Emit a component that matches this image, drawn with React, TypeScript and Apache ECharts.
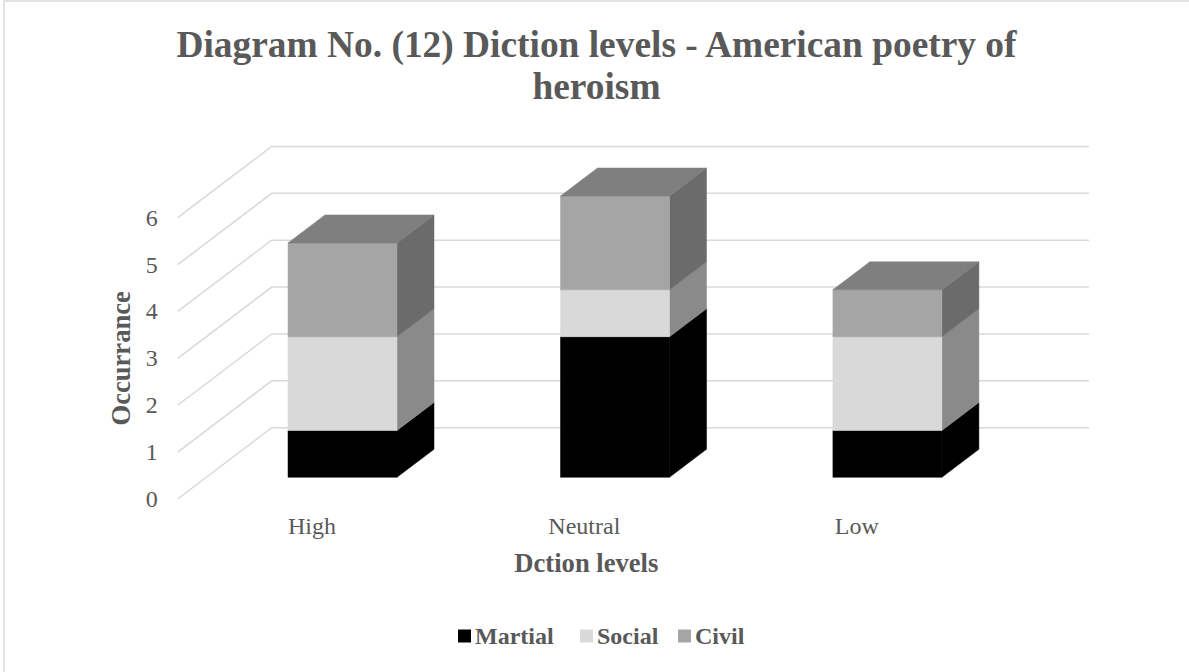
import React, { useEffect, useRef } from "react";
import * as echarts from "echarts";

const categories = ["High", "Neutral", "Low"];
const martial = [1, 3, 1];
const social = [2, 1, 2];
const civil = [2, 2, 1];
const yTicks = [0, 1, 2, 3, 4, 5, 6];

const SERIF = "'Liberation Serif', 'Times New Roman', serif";
const INK = "#595959";
const RULE = "#D9D9D9";

// Oblique projection of the chart floor and of each column
const FLOOR_DX = 94;
const FLOOR_DY = -71.3;
const BAR_SHIFT_X = 28.6;
const BAR_SHIFT_Y = -21.7;
const BAR_DX = 37;
const BAR_DY = -28;

const round = (n: number) => Math.round(n * 10) / 10;

function stackedRows(layers: number[][], layerIndex: number) {
  return categories.map((_, i) => {
    let start = 0;
    for (let l = 0; l < layerIndex; l++) start += layers[l][i];
    return [i, start, start + layers[layerIndex][i]];
  });
}

function columnSeries(
  name: string,
  rows: number[][],
  front: string,
  side: string,
  top: string | null
) {
  return {
    name,
    type: "custom",
    data: rows,
    encode: { x: 0, y: [1, 2] },
    itemStyle: { color: front },
    renderItem: (_params: any, api: any) => {
      const cat = api.value(0);
      const low = api.coord([cat, api.value(1)]);
      const high = api.coord([cat, api.value(2)]);
      const w = api.size([1, 0])[0] * 0.4;
      const x0 = round(low[0] - w / 2 + BAR_SHIFT_X);
      const x1 = round(x0 + w);
      const yLow = round(low[1] + BAR_SHIFT_Y);
      const yHigh = round(high[1] + BAR_SHIFT_Y);
      const face = (points: number[][], fill: string) => ({
        type: "polygon",
        shape: { points },
        style: { fill, stroke: fill, lineWidth: 0.5 },
      });
      const children = [
        face(
          [
            [x1, yLow],
            [x1 + BAR_DX, yLow + BAR_DY],
            [x1 + BAR_DX, yHigh + BAR_DY],
            [x1, yHigh],
          ],
          side
        ),
        face(
          [
            [x0, yLow],
            [x1, yLow],
            [x1, yHigh],
            [x0, yHigh],
          ],
          front
        ),
      ];
      if (top) {
        children.push(
          face(
            [
              [x0, yHigh],
              [x1, yHigh],
              [x1 + BAR_DX, yHigh + BAR_DY],
              [x0 + BAR_DX, yHigh + BAR_DY],
            ],
            top
          )
        );
      }
      return { type: "group", children };
    },
  };
}

// Legend entries sit at their own offsets, so each gets its own legend block
function legendEntry(name: string, left: number) {
  return {
    data: [name],
    left,
    top: 624,
    icon: "rect",
    itemWidth: 13,
    itemHeight: 13,
    itemGap: 0,
    padding: 0,
    selectedMode: false,
    textStyle: {
      fontFamily: SERIF,
      fontSize: 24,
      fontWeight: "bold",
      color: INK,
      padding: [0, 0, 0, -1],
    },
  };
}

export default function App() {
  const ref = useRef<HTMLDivElement>(null);

  useEffect(() => {
    const chart = echarts.init(ref.current!, undefined, { renderer: "svg" });
    const layers = [martial, social, civil];
    chart.setOption({
      animation: false,
      backgroundColor: "#FFFFFF",
      title: {
        text: "Diagram No. (12) Diction levels - American poetry of\nheroism",
        left: 591.5,
        textAlign: "center",
        top: 18,
        textStyle: {
          fontFamily: SERIF,
          fontSize: 37.4,
          fontWeight: "bold",
          color: INK,
          lineHeight: 42,
        },
      },
      graphic: [
        {
          type: "rect",
          silent: true,
          shape: { x: 4, y: 1, width: 1400, height: 900 },
          style: { fill: "none", stroke: RULE, lineWidth: 1.5 },
        },
      ],
      legend: [
        legendEntry("Martial", 458),
        legendEntry("Social", 580),
        legendEntry("Civil", 678),
      ],
      grid: { left: 177.7, top: 217.7, width: 817.3, height: 281.3 },
      xAxis: {
        type: "category",
        data: categories,
        axisLine: { show: false },
        axisTick: { show: false },
        axisLabel: {
          fontFamily: SERIF,
          fontSize: 24,
          color: INK,
          margin: 15,
          padding: [0, 4, 0, 0],
        },
        name: "Dction levels",
        nameLocation: "middle",
        nameGap: 50,
        nameTextStyle: {
          fontFamily: SERIF,
          fontSize: 26.6,
          fontWeight: "bold",
          color: INK,
        },
      },
      yAxis: {
        type: "value",
        min: 0,
        max: 6,
        interval: 1,
        axisLine: { show: false },
        axisTick: { show: false },
        splitLine: { show: false },
        axisLabel: {
          fontFamily: SERIF,
          fontSize: 24,
          color: INK,
          margin: 20,
        },
        name: "Occurrance",
        nameLocation: "middle",
        nameGap: 41,
        nameTextStyle: {
          fontFamily: SERIF,
          fontSize: 26.6,
          fontWeight: "bold",
          color: INK,
        },
      },
      series: [
        {
          name: "gridlines",
          type: "custom",
          silent: true,
          data: yTicks.map((v) => [0, v]),
          encode: { x: 0, y: 1 },
          renderItem: (params: any, api: any) => {
            const y = api.coord([0, api.value(1)])[1];
            const { x, width } = params.coordSys;
            return {
              type: "polyline",
              shape: {
                points: [
                  [x, y],
                  [x + FLOOR_DX, y + FLOOR_DY],
                  [x + width + FLOOR_DX, y + FLOOR_DY],
                ],
              },
              style: { fill: "none", stroke: RULE, lineWidth: 1.5 },
            };
          },
        },
        columnSeries("Martial", stackedRows(layers, 0), "#000000", "#000000", null),
        columnSeries("Social", stackedRows(layers, 1), "#D9D9D9", "#8A8A8A", null),
        columnSeries("Civil", stackedRows(layers, 2), "#A5A5A5", "#6B6B6B", "#7F7F7F"),
      ],
    });
    return () => chart.dispose();
  }, []);

  return (
    <div
      ref={ref}
      style={{ position: "absolute", left: 0, top: 0, width: 1189, height: 672 }}
    />
  );
}
